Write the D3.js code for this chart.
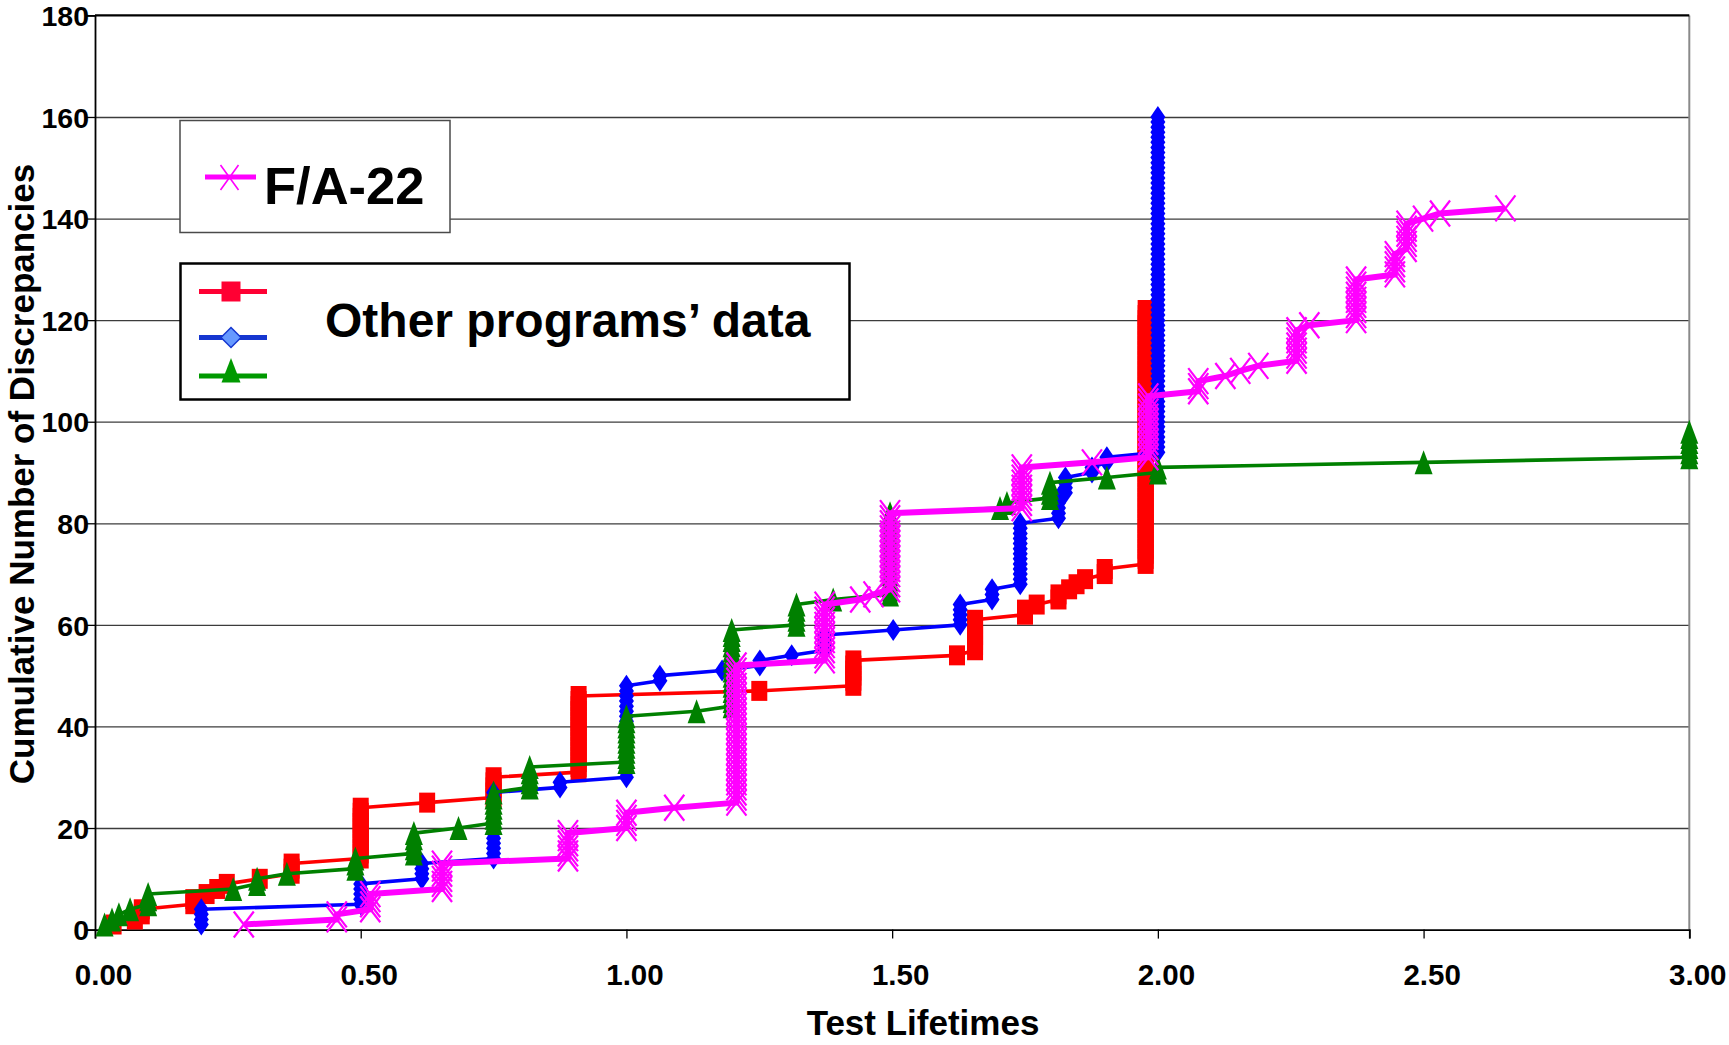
<!DOCTYPE html>
<html><head><meta charset="utf-8">
<script src="https://cdn.jsdelivr.net/npm/d3@7"></script>
<style>
body{margin:0;background:#fff}
svg{display:block}
text{font-family:"Liberation Sans",Arial,Helvetica,sans-serif;font-weight:bold;fill:#000}
</style>
</head><body>
<svg id="c" width="1729" height="1045"></svg>
<script>
// ---- data : [time, first cumulative count, last cumulative count]
const xTickValues = [0, 0.5, 1, 1.5, 2, 2.5, 3];
const yTickValues = [0, 20, 40, 60, 80, 100, 120, 140, 160, 180];
const xTitle = "Test Lifetimes";
const yTitle = "Cumulative Number of Discrepancies";
const legendMain = "F/A-22";
const legendOther = "Other programs\u2019 data";

const fa22Steps = [[0.28,1,1],[0.455,2,3],[0.518,4,7],[0.653,8,13],[0.89,14,19],[1.0,20,23],[1.09,24,24],
  [1.207,25,52],[1.373,53,64],[1.44,65,65],[1.465,66,66],[1.496,67,82],[1.744,83,91],[1.876,92,92],
  [1.982,93,105],[2.076,106,108],[2.127,109,109],[2.155,110,110],[2.189,111,111],[2.261,112,118],
  [2.285,119,119],[2.373,120,128],[2.446,129,133],[2.468,134,139],[2.499,140,140],[2.531,141,141],[2.654,142,142]];
const redSteps = [[0.035,1,1],[0.075,2,2],[0.088,3,4],[0.185,5,6],[0.21,7,7],[0.23,8,8],[0.248,9,9],[0.31,10,10],
  [0.37,11,13],[0.50,14,24],[0.625,25,25],[0.75,26,30],[0.91,31,46],[1.25,47,47],[1.427,48,53],[1.622,54,54],
  [1.656,55,61],[1.75,62,63],[1.772,64,64],[1.813,65,66],[1.833,67,67],[1.847,68,68],[1.863,69,69],[1.90,70,71],[1.977,72,122]];
const blueSteps = [[0.2,1,4],[0.5,5,9],[0.615,10,13],[0.75,14,27],[0.875,28,29],[1.0,30,48],[1.063,49,50],
  [1.18,51,51],[1.251,52,53],[1.311,54,54],[1.374,55,58],[1.502,59,59],[1.628,60,64],[1.688,65,67],
  [1.741,68,80],[1.813,81,85],[1.826,86,89],[1.876,90,91],[1.904,92,93],[2.0,94,160]];
const greenSteps = [[0.018,1,1],[0.032,2,2],[0.045,3,3],[0.066,4,4],[0.1,5,7],[0.26,8,8],[0.305,9,10],[0.361,11,11],
  [0.49,12,14],[0.6,15,19],[0.684,20,20],[0.75,21,27],[0.818,28,32],[1.0,33,42],[1.132,43,43],[1.198,44,59],
  [1.32,60,64],[1.389,65,65],[1.496,66,82],[1.703,83,83],[1.716,84,84],[1.797,85,88],[1.904,89,89],[2.0,90,91],
  [2.5,92,92],[3.0,93,98]];

// ---- layout
const svg = d3.select("#c");
const x = d3.scaleLinear().domain([0, 3]).range([95, 1689.3]);
const y = d3.scaleLinear().domain([0, 180]).range([929.6, 15.4]);

function points(steps){
  const out = [];
  steps.forEach(([t, a, b]) => { for (let v = a; v <= b; v++) out.push([t, v]); });
  return out;
}

// gridlines
const grid = svg.append("g").attr("transform", `translate(${x(0)},0)`)
  .call(d3.axisLeft(y).tickValues(yTickValues.filter(v => v > 0 && v < 180)).tickSize(-(x(3) - x(0))).tickFormat(""));
grid.select(".domain").remove();
grid.selectAll("line").attr("stroke", "#3c3c3c").attr("stroke-width", 1.3);

// right border & top line
svg.append("line").attr("x1", x(3)).attr("x2", x(3)).attr("y1", y(180)).attr("y2", y(0))
  .attr("stroke", "#8a8a8a").attr("stroke-width", 2);
svg.append("line").attr("x1", x(0)).attr("x2", x(3)).attr("y1", y(180)).attr("y2", y(180))
  .attr("stroke", "#000").attr("stroke-width", 2.2);

// y axis
const yAxis = svg.append("g").attr("transform", `translate(${x(0)},0)`)
  .call(d3.axisLeft(y).tickValues(yTickValues).tickSize(8).tickPadding(6).tickFormat(d3.format("d")));
yAxis.select(".domain").attr("stroke", "#000").attr("stroke-width", 1.8);
yAxis.selectAll("line").attr("stroke", "#000").attr("stroke-width", 1.3);
yAxis.selectAll("text").attr("font-size", 28.5).attr("dy", "0.36em").attr("x", -6)
  .style("font-family", '"Liberation Sans",Arial,sans-serif').style("font-weight", "bold");

// x axis
const xAxis = svg.append("g").attr("transform", `translate(0,${y(0)})`)
  .call(d3.axisBottom(x).tickValues(xTickValues).tickSize(9).tickFormat(d3.format(".2f")));
xAxis.select(".domain").attr("stroke", "#000").attr("stroke-width", 1.8);
xAxis.selectAll("line").attr("stroke", "#000").attr("stroke-width", 1.3);
xAxis.selectAll("text").attr("font-size", 29.5).attr("y", 55.5).attr("dy", 0).attr("dx", 8)
  .style("font-family", '"Liberation Sans",Arial,sans-serif').style("font-weight", "bold");

// titles
svg.append("text").attr("x", 923).attr("y", 1035).attr("text-anchor", "middle")
  .attr("font-size", 35).text(xTitle);
svg.append("text").attr("transform", "translate(34,474) rotate(-90)").attr("text-anchor", "middle")
  .attr("font-size", 35).text(yTitle);

// markers
const markerPaths = {
  square: "M-8,-10H8V10H-8Z",
  diamond: "M0,-11L7.5,0L0,11L-7.5,0Z",
  triangle: "M0,-12L9,12L-9,12Z",
  cross: "M-10,-13L10,13M-10,13L10,-13"
};
const line = d3.line().x(d => x(d[0])).y(d => y(d[1]));

function drawSeries(steps, color, width, marker, markerColor){
  const pts = points(steps);
  const g = svg.append("g");
  g.append("path").datum(pts).attr("d", line).attr("fill", "none")
    .attr("stroke", color).attr("stroke-width", width).attr("stroke-linejoin", "round");
  g.selectAll("path.m").data(pts).join("path").attr("class", "m")
    .attr("transform", d => `translate(${x(d[0])},${y(d[1])})`)
    .attr("d", markerPaths[marker])
    .attr("fill", marker === "cross" ? "none" : markerColor)
    .attr("stroke", marker === "cross" ? markerColor : "none")
    .attr("stroke-width", marker === "cross" ? 2.2 : 0);
}
drawSeries(redSteps, "#ff0000", 3.6, "square", "#ff0000");
drawSeries(blueSteps, "#0000ff", 3.6, "diamond", "#0000ff");
drawSeries(greenSteps, "#008000", 3.6, "triangle", "#008000");
drawSeries(fa22Steps, "#ff00ff", 6, "cross", "#ff00ff");

// legend 1
const lg1 = svg.append("g");
lg1.append("rect").attr("x", 180).attr("y", 120.5).attr("width", 270).attr("height", 112)
  .attr("fill", "#fff").attr("stroke", "#4a4a4a").attr("stroke-width", 1.5);
lg1.append("line").attr("x1", 205).attr("x2", 256).attr("y1", 177).attr("y2", 177)
  .attr("stroke", "#ff00ff").attr("stroke-width", 5);
lg1.append("path").attr("transform", "translate(229.5,177.5)").attr("d", "M-9,-12.5L9,12.5M-9,12.5L9,-12.5")
  .attr("stroke", "#ff00ff").attr("stroke-width", 1.6).attr("fill", "none");
lg1.append("text").attr("x", 264).attr("y", 204).attr("font-size", 52.5).text(legendMain);

// legend 2
const lg2 = svg.append("g");
lg2.append("rect").attr("x", 180.5).attr("y", 263.5).attr("width", 669).attr("height", 136)
  .attr("fill", "#fff").attr("stroke", "#000").attr("stroke-width", 2.5);
const legItems = [
  {yy: 291.5, color: "#ff0033", marker: "M-9.5,-10H9.5V10H-9.5Z", fill: "#ff0033", stroke: "none"},
  {yy: 337.5, color: "#1536d0", marker: "M0,-10L10,0L0,10L-10,0Z", fill: "#6699ff", stroke: "#1536d0"},
  {yy: 376, color: "#009900", marker: "M0,-18L9.5,6.5L-9.5,6.5Z", fill: "#009900", stroke: "none"}
];
legItems.forEach(it => {
  lg2.append("line").attr("x1", 199).attr("x2", 267).attr("y1", it.yy).attr("y2", it.yy)
    .attr("stroke", it.color).attr("stroke-width", 5);
  lg2.append("path").attr("transform", `translate(231,${it.yy})`).attr("d", it.marker)
    .attr("fill", it.fill).attr("stroke", it.stroke).attr("stroke-width", 1.5);
});
lg2.append("text").attr("x", 325).attr("y", 337).attr("font-size", 48).text(legendOther);
</script>
</body></html>
